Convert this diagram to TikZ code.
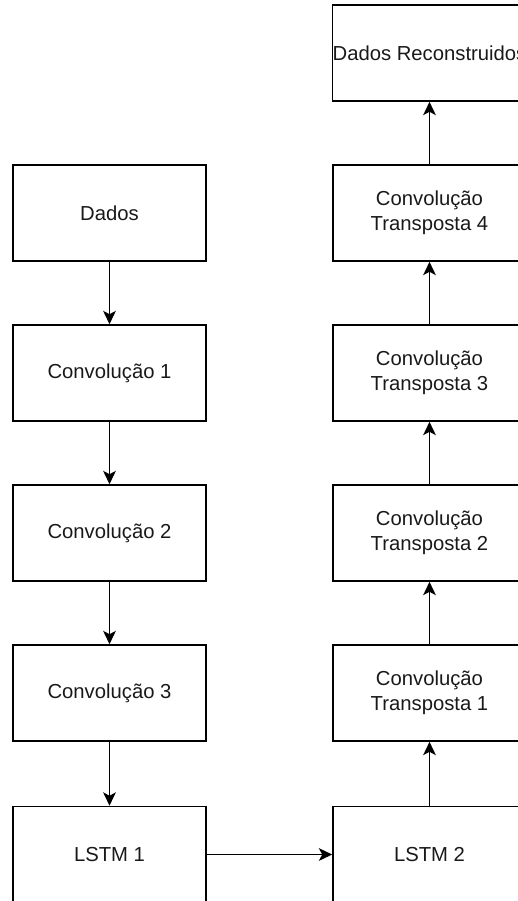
\documentclass[tikz,border=0pt]{standalone}
\usepackage{fontspec}
\setmainfont{Liberation Sans}
\usetikzlibrary{arrows.meta}
\tikzset{
  camada/.style={draw, line width=1.2pt, minimum width=144.75pt, minimum height=72pt,
    inner sep=0pt, align=center, text=black!90,
    font=\fontsize{15.2}{18.75}\selectfont},
  seta/.style={line width=1.2pt, -{Stealth[length=10pt, width=9.5pt, inset=2.5pt]}}
}

\begin{document}
\begin{tikzpicture}[x=0.75pt, y=-0.75pt]
	\clip (0,0) rectangle (518,901);
	\def\esq{109.5}
	\def\dir{429.5}

	% coluna do codificador
	\node[camada] (dados) at (\esq,213) {Dados};
	\node[camada] (conv1) at (\esq,373) {Convolução 1};
	\node[camada] (conv2) at (\esq,533) {Convolução 2};
	\node[camada] (conv3) at (\esq,693) {Convolução 3};
	\node[camada] (lstm1) at (\esq,854.5) {LSTM 1};

	% coluna do decodificador
	\node[camada] (lstm2) at (\dir,854.5) {LSTM 2};
	\node[camada] (tconv1) at (\dir,693) {Convolução\\Transposta 1};
	\node[camada] (tconv2) at (\dir,533) {Convolução\\Transposta 2};
	\node[camada] (tconv3) at (\dir,373) {Convolução\\Transposta 3};
	\node[camada] (tconv4) at (\dir,213) {Convolução\\Transposta 4};
	\node[camada] (rec) at (\dir,53) {Dados Reconstruidos};

	\draw[seta] (dados) -- (conv1);
	\draw[seta] (conv1) -- (conv2);
	\draw[seta] (conv2) -- (conv3);
	\draw[seta] (conv3) -- (lstm1);
	\draw[seta] (lstm1) -- (lstm2);
	\draw[seta] (lstm2) -- (tconv1);
	\draw[seta] (tconv1) -- (tconv2);
	\draw[seta] (tconv2) -- (tconv3);
	\draw[seta] (tconv3) -- (tconv4);
	\draw[seta] (tconv4) -- (rec);
\end{tikzpicture}
\end{document}
